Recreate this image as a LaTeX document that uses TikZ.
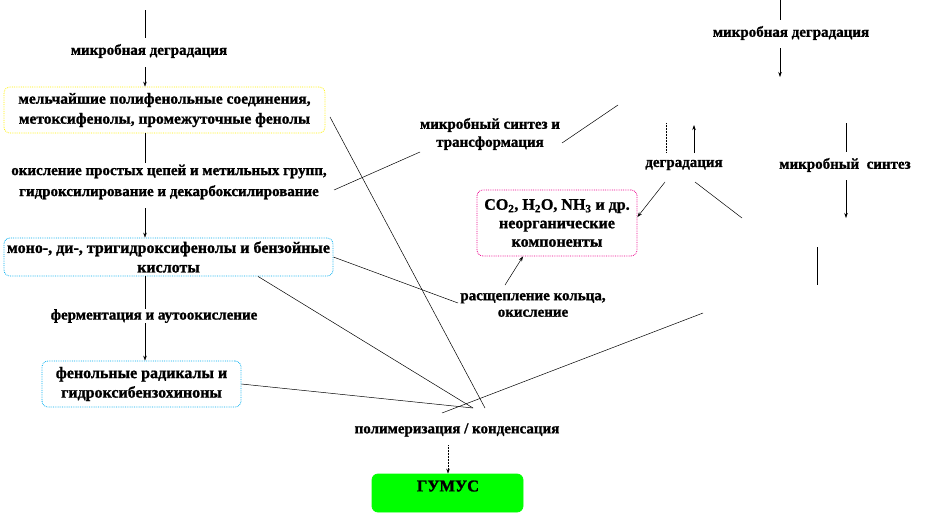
\documentclass[tikz,border=0pt]{standalone}
\usepackage{fontspec}
\setmainfont{Liberation Serif}[BoldFeatures={FakeBold=1.2}]
\usetikzlibrary{arrows.meta}
\begin{document}
\begin{tikzpicture}[x=1pt,y=-1pt,
  lbl/.style={font=\fontsize{15}{19}\selectfont\bfseries, align=center, inner sep=0pt},
  btxt/.style={font=\fontsize{16}{19.5}\selectfont\bfseries, align=center},
  box/.style={draw=#1, densely dotted, rounded corners=6pt, line width=0.8pt, inner sep=0pt},
  ln/.style={line width=0.5pt},
  arr/.style={line width=0.5pt, -{Stealth[length=5pt,width=3.5pt]}}]
\useasboundingbox (0,0) rectangle (925,515);

% ---------- left column ----------
\coordinate (t1) at (145,10);
\coordinate (t1e) at (145,38);
\node[lbl] (L1) at (149,51) {микробная деградация};
\coordinate (a1) at (145,67);
\node[box=yellow, minimum width=321pt, minimum height=46pt, btxt, font=\fontsize{15.5}{20}\selectfont\bfseries] (B1) at (164.5,110)
  {мельчайшие полифенольные соединения,\\метоксифенолы, промежуточные фенолы};
\draw[ln] (t1) -- (t1e);
\draw[arr] (a1) -- (a1 |- B1.north);
\coordinate (c2) at (145,163);
\draw[ln] (B1.south -| c2) -- (c2);
\node[lbl, font=\fontsize{15}{21}\selectfont\bfseries] (L2) at (169,182)
  {окисление простых цепей и метильных групп,\\гидроксилирование и декарбоксилирование};
\coordinate (a2) at (145,208);
\node[box=cyan, minimum width=329pt, minimum height=38pt, btxt] (B2) at (168.5,257)
  {моно-, ди-, тригидроксифенолы и бензойные\\кислоты};
\draw[arr] (a2) -- (a2 |- B2.north);
\node[box=cyan, minimum width=199pt, minimum height=46pt, btxt] (B3) at (141.5,384)
  {фенольные радикалы и\\гидроксибензохиноны};
\draw[arr] (B2.south -| a2) -- (B3.north -| a2);
\node[lbl, fill=white] (L3) at (154,316) {ферментация и аутоокисление};

% ---------- middle ----------
\node[lbl, font=\fontsize{15}{18}\selectfont\bfseries] (L4) at (490,134) {микробный синтез и\\трансформация};
\coordinate (m0) at (420,152);
\coordinate (m1) at (334,190);
\draw[ln] (m0) -- (m1);
\coordinate (m2) at (562,143);
\coordinate (m3) at (618,105);
\draw[ln] (m2) -- (m3);
\node[box=magenta, minimum width=160pt, minimum height=66pt, btxt, font=\fontsize{16}{18.5}\selectfont\bfseries] (M) at (557,223)
  {CO\textsubscript{2}, H\textsubscript{2}O, NH\textsubscript{3} и др.\\неорганические\\компоненты};
\node[lbl, font=\fontsize{15}{16.5}\selectfont\bfseries] (L5) at (533,305) {расщепление кольца,\\окисление};
\coordinate (r0) at (505,285);
\coordinate (r1) at (523,256);
\draw[arr] (r0) -- (M.south -| r1);
\coordinate (r2) at (458,303);
\draw[ln] (B2.east) -- (r2);

% ---------- right ----------
\coordinate (u1) at (780,0);
\coordinate (u2) at (780,20);
\draw[ln] (u1) -- (u2);
\node[lbl] (L6) at (791,33) {микробная деградация};
\coordinate (u3) at (780,48);
\coordinate (u4) at (780,77);
\draw[arr] (u3) -- (u4);
\coordinate (d1) at (666,123);
\coordinate (d2) at (666,153);
\draw[ln, densely dotted] (d1) -- (d2);
\coordinate (d3) at (694,153);
\coordinate (d4) at (694,125);
\draw[arr] (d3) -- (d4);
\node[lbl] (L7) at (684,165) {деградация};
\node[lbl] (L8) at (845,165) {микробный\ \ синтез};
\coordinate (d5) at (665,182);
\coordinate (d6) at (638,217);
\draw[arr] (d5) -- (M.east |- d6);
\coordinate (d7) at (695,182);
\coordinate (d8) at (742,218);
\draw[ln] (d7) -- (d8);
\coordinate (s1) at (846,123);
\coordinate (s2) at (846,152);
\draw[ln] (s1) -- (s2);
\coordinate (s3) at (846,180);
\coordinate (s4) at (846,218);
\draw[arr] (s3) -- (s4);
\coordinate (s5) at (817,247);
\coordinate (s6) at (817,285);
\draw[ln] (s5) -- (s6);
\coordinate (s7) at (703,313);
\coordinate (s8) at (442,413);
\draw[ln] (s7) -- (s8);

% ---------- bottom ----------
\coordinate (k1) at (485,408);
\coordinate (k2) at (473,408);
\coordinate (e1) at (330,117);
\coordinate (e2) at (258,275);
\draw[ln] (e1) -- (k1);
\draw[ln] (B2.south -| e2) -- (k2);
\draw[ln] (B3.east) -- (k2);
\node[lbl] (L9) at (457,430) {полимеризация / конденсация};
\node[box=green, fill=green, solid, minimum width=151pt, minimum height=38pt] (G) at (447.5,493) {};
\node[lbl, font=\fontsize{16.5}{18}\selectfont\bfseries] (GT) at (448,486) {ГУМУС};
\coordinate (g0) at (448,445);
\draw[arr, densely dotted] (g0) -- (G.north -| g0);
\end{tikzpicture}
\end{document}
